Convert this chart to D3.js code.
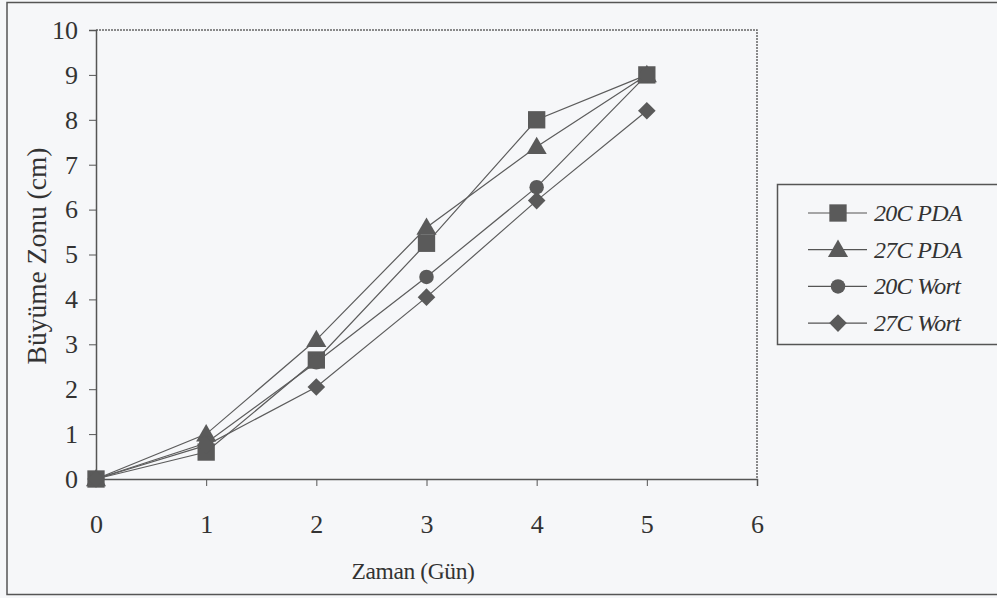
<!DOCTYPE html>
<html>
<head>
<meta charset="utf-8">
<script src="https://cdn.jsdelivr.net/npm/d3@7"></script>
<style>
  body { margin: 0; background: #f6f7f9; }
  svg text { font-family: "Liberation Serif", "DejaVu Serif", serif; fill: #333; }
</style>
</head>
<body>
<script>
const days = [0, 1, 2, 3, 4, 5];
const seriesNames = ["20C PDA", "27C PDA", "20C Wort", "27C Wort"];
const pda20 = [0, 0.6, 2.65, 5.25, 8.0, 9.0];
const pda27 = [0, 1.0, 3.1, 5.6, 7.4, 9.0];
const wort20 = [0, 0.8, 2.6, 4.5, 6.5, 9.0];
const wort27 = [0, 0.75, 2.05, 4.05, 6.2, 8.2];
const xTicks = [0, 1, 2, 3, 4, 5, 6];
const yTicks = [0, 1, 2, 3, 4, 5, 6, 7, 8, 9, 10];

const series = [pda20, pda27, wort20, wort27];
const serif = '"Liberation Serif", "DejaVu Serif", serif';

// square-ish diamond (a square turned 45 degrees)
const squareDiamond = {
  draw(context, size) {
    const r = Math.sqrt(size) / 2 * Math.SQRT2;
    context.moveTo(0, -r);
    context.lineTo(r, 0);
    context.lineTo(0, r);
    context.lineTo(-r, 0);
    context.closePath();
  }
};
const shapes = [d3.symbolSquare, d3.symbolTriangle, d3.symbolCircle, squareDiamond];
const sizes = [300, 175, 165, 155];

const svg = d3.select('body')
  .append('svg')
  .attr('width', 997)
  .attr('height', 598);

// outer chart border
svg.append('rect')
  .attr('x', 7).attr('y', 2.5)
  .attr('width', 1000).attr('height', 592)
  .attr('fill', '#f6f7f9')
  .attr('stroke', '#555').attr('stroke-width', 1.5);

const plotL = 96, plotR = 757, plotT = 30, plotB = 479;

const x = d3.scaleLinear().domain([0, 6]).range([plotL, plotR]);
const y = d3.scaleLinear().domain([0, 10]).range([plotB, plotT]);

// plot frame (top and right dotted)
svg.append('path')
  .attr('d', `M${plotL},${plotT}H${plotR}V${plotB}`)
  .attr('fill', 'none')
  .attr('stroke', '#666')
  .attr('stroke-width', 1.5)
  .attr('stroke-dasharray', '2,1');

// axes
const yAxis = svg.append('g')
  .attr('transform', `translate(${plotL},0)`)
  .call(d3.axisLeft(y).tickValues(yTicks).tickSize(7).tickPadding(11).tickFormat(d3.format('d')));

const xAxis = svg.append('g')
  .attr('transform', `translate(0,${plotB})`)
  .call(d3.axisBottom(x).tickValues(xTicks).tickSize(7).tickPadding(29).tickFormat(d3.format('d')));

[yAxis, xAxis].forEach(g => {
  g.attr('font-family', serif);
  g.select('.domain').attr('stroke', '#555').attr('stroke-width', 1.5);
  g.selectAll('.tick line').attr('stroke', '#555');
  g.selectAll('.tick text')
    .attr('font-size', 26)
    .attr('fill', '#333');
});

// axis titles
svg.append('text')
  .attr('x', 413).attr('y', 579)
  .attr('text-anchor', 'middle')
  .attr('font-family', serif)
  .attr('font-size', 23.5)
  .attr('letter-spacing', -0.4)
  .text('Zaman (Gün)');

svg.append('text')
  .attr('transform', 'translate(46,256) rotate(-90)')
  .attr('text-anchor', 'middle')
  .attr('font-family', serif)
  .attr('font-size', 27.5)
  .text('Büyüme Zonu (cm)');

// series
const line = d3.line()
  .x((d, i) => x(days[i]))
  .y(d => y(d));

series.forEach((vals, s) => {
  svg.append('path')
    .datum(vals)
    .attr('d', line)
    .attr('fill', 'none')
    .attr('stroke', '#5c5c5c')
    .attr('stroke-width', 1.2);

  svg.selectAll(`.m${s}`)
    .data(vals)
    .enter()
    .append('path')
    .attr('class', `m${s}`)
    .attr('transform', (d, i) => `translate(${x(days[i])},${y(d) + (s == 1 ? 1.5 : 0)})`)
    .attr('d', d3.symbol().type(shapes[s]).size(sizes[s]))
    .attr('fill', '#5a5a5a');
});

// legend
const legend = svg.append('g');
legend.append('rect')
  .attr('x', 777.5).attr('y', 184.5)
  .attr('width', 240).attr('height', 160)
  .attr('fill', '#f6f7f9')
  .attr('stroke', '#555').attr('stroke-width', 1.5);

seriesNames.forEach((name, s) => {
  const ly = 213 + s * 36.7;
  legend.append('line')
    .attr('x1', 808).attr('x2', 867)
    .attr('y1', ly).attr('y2', ly)
    .attr('stroke', '#555').attr('stroke-width', 1.2);
  legend.append('path')
    .attr('transform', `translate(838,${ly + (s == 1 ? 1.5 : 0)})`)
    .attr('d', d3.symbol().type(shapes[s]).size(sizes[s]))
    .attr('fill', '#5a5a5a');
  legend.append('text')
    .attr('x', 874).attr('y', ly + 8)
    .attr('font-family', serif)
    .attr('font-size', 24)
    .attr('font-style', 'italic')
    .attr('letter-spacing', -0.7)
    .text(name);
});
</script>
</body>
</html>
